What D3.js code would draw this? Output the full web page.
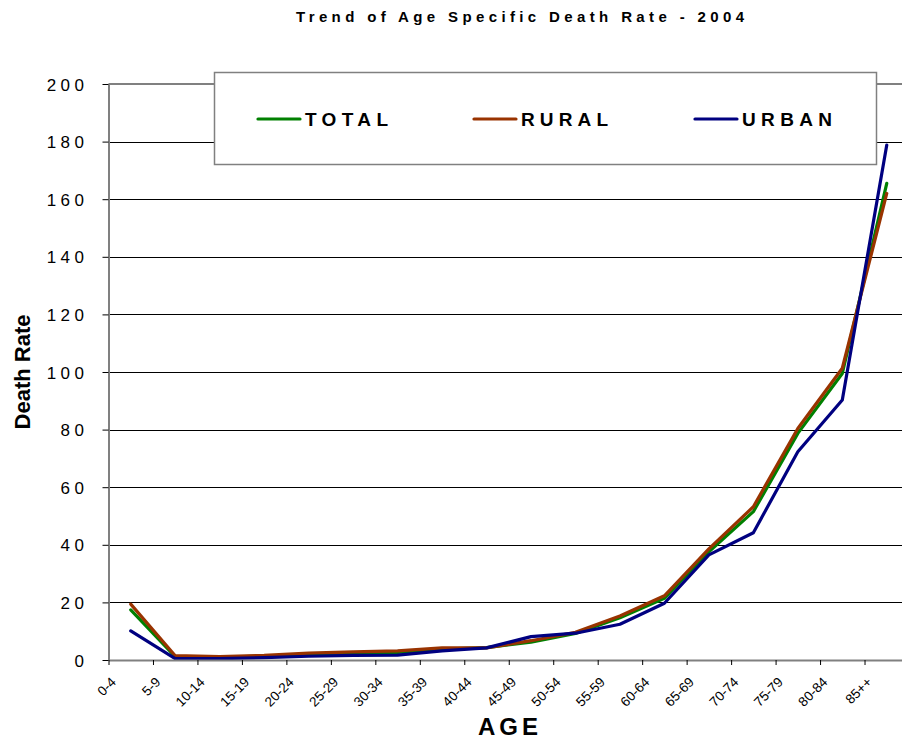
<!DOCTYPE html>
<html>
<head>
<meta charset="utf-8">
<script src="https://cdn.jsdelivr.net/npm/d3@7"></script>
<style>
  html, body { margin: 0; padding: 0; background: #fff; }
  svg { display: block; }
  text { font-family: "Liberation Sans", Arial, sans-serif; }
</style>
</head>
<body>
<svg id="chart" width="902" height="740"></svg>
<script>
const categories = ["0-4","5-9","10-14","15-19","20-24","25-29","30-34","35-39","40-44","45-49","50-54","55-59","60-64","65-69","70-74","75-79","80-84","85++"];
const total = [17.4, 1.2, 1.0, 1.3, 2.0, 2.3, 2.6, 3.8, 4.3, 6.2, 9.2, 14.7, 21.4, 37.6, 51.5, 78.7, 99.5, 165.5];
const rural = [19.4, 1.5, 1.2, 1.6, 2.4, 2.8, 3.2, 4.2, 4.2, 6.7, 9.6, 15.3, 22.3, 38.6, 53.2, 80.4, 101.3, 162.0];
const urban = [10.1, 0.5, 0.5, 0.8, 1.3, 1.6, 1.7, 3.2, 4.2, 8.1, 9.3, 12.4, 19.7, 36.5, 44.2, 72.3, 90.3, 178.8];
const seriesNames = ["TOTAL", "RURAL", "URBAN"];
const seriesColors = ["#008000", "#993300", "#000080"];
const yTicks = [0, 20, 40, 60, 80, 100, 120, 140, 160, 180, 200];
const chartTitle = "Trend of Age Specific Death Rate - 2004";
const yTitle = "Death Rate";
const xTitle = "AGE";

(function () {
const svg = d3.select("#chart");
const pLeft = 108.5, pRight = 909, pTop = 84, pBottom = 660;

const x = d3.scaleBand().domain(categories).range([pLeft, pRight]).padding(0);
const xb = d3.scaleLinear().domain([0, categories.length]).range([pLeft, pRight]);
const y = d3.scaleLinear().domain([0, 200]).range([pBottom, pTop]);

// gridlines
svg.append("g").selectAll("line")
  .data(yTicks.filter(d => d > 0 && d < 200))
  .join("line")
  .attr("x1", pLeft).attr("x2", pRight)
  .attr("y1", d => Math.round(y(d)) + 0.5).attr("y2", d => Math.round(y(d)) + 0.5)
  .attr("stroke", "#000").attr("stroke-width", 1);

// top border
svg.append("line").attr("x1", pLeft).attr("x2", pRight)
  .attr("y1", pTop).attr("y2", pTop)
  .attr("stroke", "#808080").attr("stroke-width", 2);

// lines
const seriesData = [total, rural, urban];
const line = d3.line()
  .x((d, i) => x(categories[i]) + x.bandwidth() / 2)
  .y(d => y(d));
seriesData.forEach((s, k) => {
  svg.append("path").datum(s)
    .attr("d", line)
    .attr("fill", "none")
    .attr("stroke", seriesColors[k])
    .attr("stroke-width", 3.2)
    .attr("stroke-linejoin", "round")
    .attr("stroke-linecap", "round");
});

// y axis
const yAxis = svg.append("g")
  .attr("transform", `translate(${pLeft},0)`)
  .call(d3.axisLeft(y).tickValues(yTicks).tickSize(6).tickSizeOuter(0).tickFormat(d => d));
yAxis.select(".domain").attr("stroke", "#808080").attr("stroke-width", 2);
yAxis.selectAll(".tick line").attr("stroke", "#000");
yAxis.selectAll(".tick text")
  .attr("x", -20)
  .attr("dy", "0.36em")
  .style("font-size", "17px")
  .style("letter-spacing", "4.5px")
  .style("font-family", "'Liberation Sans', Arial, sans-serif")
  .attr("fill", "#000");

// x axis (ticks at category boundaries)
const xAxis = svg.append("g")
  .attr("transform", `translate(0,${pBottom})`)
  .call(d3.axisBottom(xb).tickValues(d3.range(0, categories.length + 1)).tickSize(5).tickSizeOuter(0).tickFormat(""));
xAxis.select(".domain").attr("stroke", "#808080").attr("stroke-width", 2);
xAxis.selectAll(".tick line").attr("stroke", "#000");

// x tick labels rotated
svg.append("g").selectAll("text")
  .data(categories)
  .join("text")
  .attr("transform", d => `translate(${x(d) + x.bandwidth() / 2 - 14},${pBottom + 23}) rotate(-45)`)
  .attr("text-anchor", "end")
  .style("font-size", "13.5px")
  .attr("fill", "#000")
  .text(d => d);

// legend
svg.append("rect")
  .attr("x", 214.5).attr("y", 72.5).attr("width", 662).attr("height", 92)
  .attr("fill", "#fff").attr("stroke", "#808080").attr("stroke-width", 1.5);
const legendX = [258, 474, 695];
const legendW = [83, 87, 90];
seriesNames.forEach((n, k) => {
  svg.append("line")
    .attr("x1", legendX[k]).attr("x2", legendX[k] + 42)
    .attr("y1", 119).attr("y2", 119)
    .attr("stroke", seriesColors[k]).attr("stroke-width", 3.2)
    .attr("stroke-linecap", "round");
  svg.append("text")
    .attr("x", legendX[k] + 47).attr("y", 126)
    .attr("textLength", legendW[k]).attr("lengthAdjust", "spacing")
    .style("font-size", "19px").style("font-weight", "bold")
    .attr("fill", "#000")
    .text(n);
});

// title
svg.append("text")
  .attr("x", 296).attr("y", 22)
  .attr("textLength", 448).attr("lengthAdjust", "spacing")
  .style("font-size", "15px").style("font-weight", "bold")
  .attr("fill", "#000")
  .text(chartTitle);

// y title
svg.append("text")
  .attr("transform", `translate(30,372) rotate(-90)`)
  .attr("text-anchor", "middle")
  .style("font-size", "22px").style("font-weight", "bold")
  .attr("fill", "#000")
  .text(yTitle);

// x title
svg.append("text")
  .attr("x", 478).attr("y", 735)
  .attr("textLength", 60).attr("lengthAdjust", "spacing")
  .style("font-size", "24px").style("font-weight", "bold")
  .attr("fill", "#000")
  .text(xTitle);
})();
</script>
</body>
</html>
